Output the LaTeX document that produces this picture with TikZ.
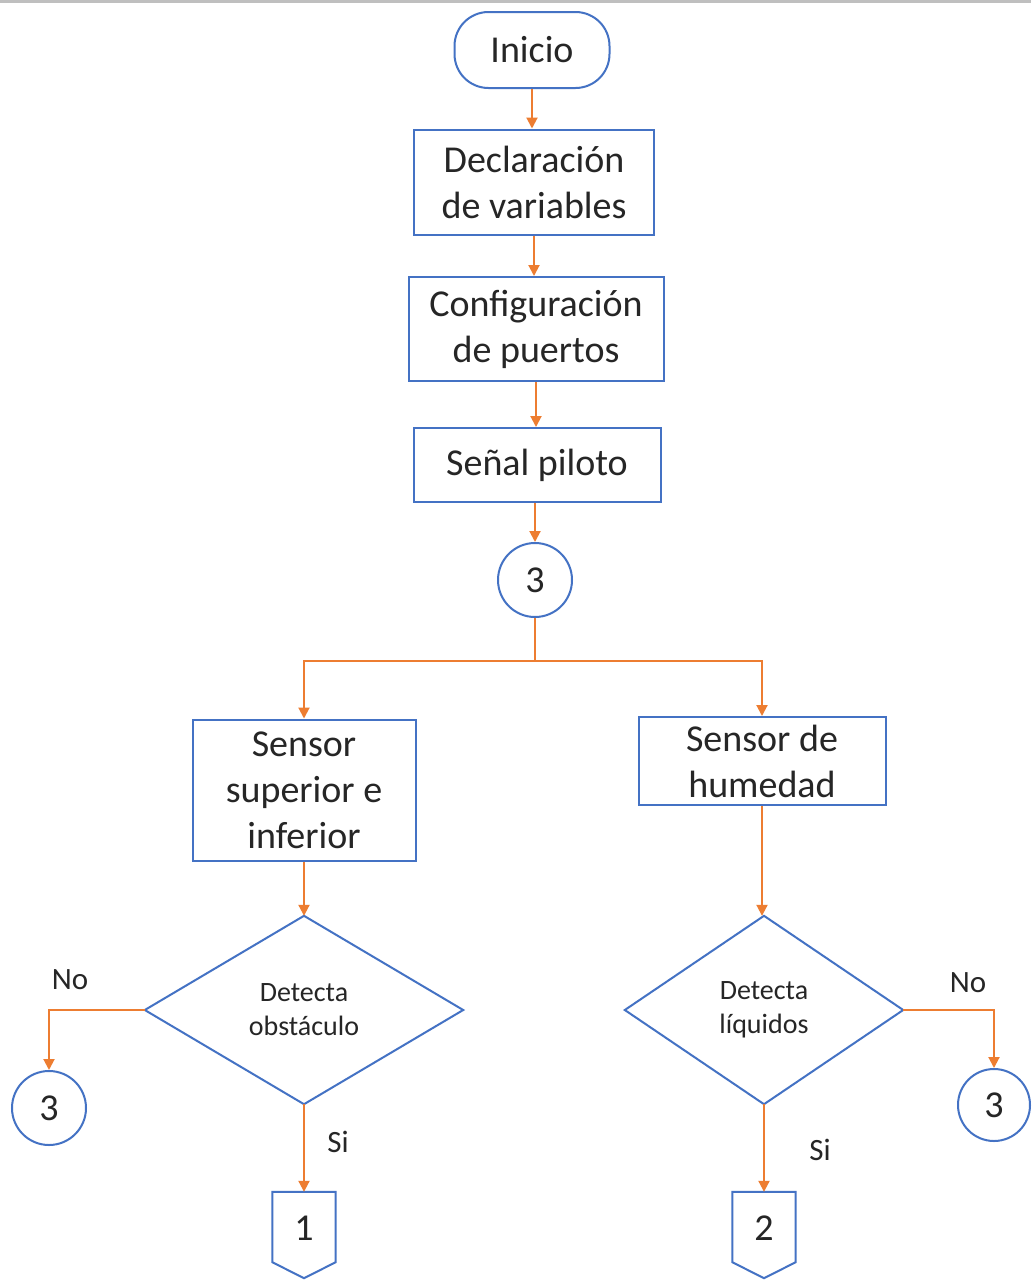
\documentclass[tikz,border=0pt]{standalone}
\usepackage{fontspec}
\setmainfont{Carlito}
\usetikzlibrary{arrows.meta,shapes.geometric}
\definecolor{bblue}{HTML}{4472C4}
\definecolor{borange}{HTML}{ED7D31}
\definecolor{tgray}{HTML}{262626}
\begin{document}
\begin{tikzpicture}[x=1pt,y=-1pt,
  every node/.style={text=tgray},
  big/.style={font=\fontsize{38}{46}\selectfont},
  small/.style={font=\fontsize{28}{34}\selectfont},
  lbl/.style={font=\fontsize{31}{34}\selectfont, inner sep=0pt},
  proc/.style={draw=bblue, line width=2pt, align=center, big, inner sep=0pt},
  term/.style={proc, rounded corners=34pt},
  conn/.style={draw=bblue, line width=2pt, circle, big, inner sep=0pt},
  hidden/.style={draw=none, inner sep=0pt},
  flow/.style={draw=borange, line width=2pt, -{Triangle[width=11pt,length=11pt]}},
  flowplain/.style={draw=borange, line width=2pt},
  outline/.style={draw=bblue, line width=2pt, line join=miter}
]
\useasboundingbox (0,0) rectangle (1031,1280);
\fill[white] (0,0) rectangle (1031,1280);
\draw[draw=black!25, line width=3pt] (0,1.5) -- (1031,1.5);

\node[term, minimum width=155, minimum height=76] (inicio) at (532,50) {Inicio};
\node[proc, minimum width=240, minimum height=105] (decl) at (534,182) {Declaración\\de variables};
\node[proc, minimum width=255, minimum height=104] (conf) at (536,329) {Configuración\\de puertos};
\node[proc, minimum width=247, minimum height=74] (senal) at (537,465) {Señal piloto};
\node[conn, minimum size=74] (c3) at (535,580) {3};
\coordinate (split) at (535,661);
\node[proc, minimum width=223, minimum height=141] (s1) at (304,790) {Sensor\\superior e\\inferior};
\node[proc, minimum width=247, minimum height=88] (s2) at (762,761) {Sensor de\\humedad};

\node[hidden, align=center, small, minimum width=318, minimum height=188] (d1) at (304,1010) {Detecta\\obstáculo};
\draw[outline] (d1.north) -- (d1.east) -- (d1.south) -- (d1.west) -- cycle;
\node[hidden, align=center, small, minimum width=278, minimum height=188] (d2) at (764,1010) {Detecta\\líquidos};
\draw[outline] (d2.north) -- (d2.east) -- (d2.south) -- (d2.west) -- cycle;

\node[conn, minimum size=74] (n1) at (49,1108) {3};
\node[conn, minimum size=72] (n2) at (994,1105) {3};

\node[hidden, minimum width=63, minimum height=86] (p1) at (304,1235) {};
\draw[outline] (p1.north west) -- (p1.north east) -- ([yshift=16pt]p1.south east) -- (p1.south) -- ([yshift=16pt]p1.south west) -- cycle;
\node[big, inner sep=0pt] (p1t) at (304,1228) {1};
\node[hidden, minimum width=63, minimum height=86] (p2) at (764,1235) {};
\draw[outline] (p2.north west) -- (p2.north east) -- ([yshift=16pt]p2.south east) -- (p2.south) -- ([yshift=16pt]p2.south west) -- cycle;
\node[big, inner sep=0pt] (p2t) at (764,1228) {2};

\node[lbl] (no1) at (70,980) {No};
\node[lbl] (no2) at (968,983) {No};
\node[lbl] (si1) at (338,1142) {Si};
\node[lbl] (si2) at (820,1150) {Si};

\draw[flow] (inicio.south) -- (inicio.south |- decl.north);
\draw[flow] (decl.south) -- (decl.south |- conf.north);
\draw[flow] (conf.south) -- (conf.south |- senal.north);
\draw[flow] (c3.north |- senal.south) -- (c3.north);
\draw[flowplain] (c3.south) -- (split);
\draw[flow] (split) -| (s1.north);
\draw[flow] (split) -| (s2.north);
\draw[flow] (s1.south) -- (d1.north);
\draw[flow] (s2.south) -- (s2.south |- d2.north);
\draw[flow] (d1.west) -| (n1.north);
\draw[flow] (d2.east) -| (n2.north);
\draw[flow] (d1.south) -- (p1.north);
\draw[flow] (d2.south) -- (p2.north);
\end{tikzpicture}
\end{document}
